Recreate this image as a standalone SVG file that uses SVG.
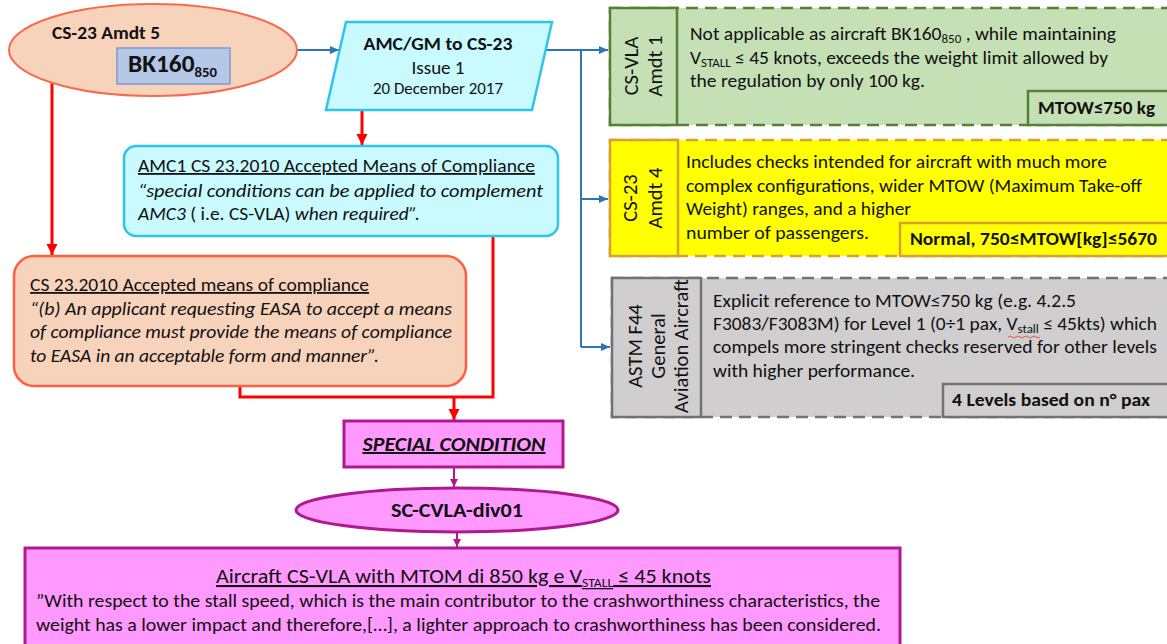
<svg xmlns="http://www.w3.org/2000/svg" width="1167" height="644" viewBox="0 0 1167 644">
<style>
text{font-family:Carlito,Lato,"Liberation Sans",sans-serif;fill:#111;}
.b{font-weight:bold;}
.i{font-style:italic;}
.u{text-decoration:underline;}
.blue{stroke:#2E75B6;stroke-width:2;fill:none;}
.red{stroke:#FF0000;stroke-width:3;fill:none;}
.pur{stroke:#B0188F;stroke-width:2;fill:none;}
.dash{stroke-dasharray:12 7;}
</style>
<defs>
<marker id="ab" markerUnits="userSpaceOnUse" markerWidth="10" markerHeight="10" refX="9" refY="5" orient="auto"><path d="M0,1 L9,5 L0,9 Z" fill="#2E75B6"/></marker>
<marker id="ar" markerUnits="userSpaceOnUse" markerWidth="12" markerHeight="12" refX="11" refY="6" orient="auto"><path d="M0,0.5 L11,6 L0,11.5 Z" fill="#FF0000"/></marker>
<marker id="ap" markerUnits="userSpaceOnUse" markerWidth="10" markerHeight="10" refX="8" refY="5" orient="auto"><path d="M0,1 L8,5 L0,9 Z" fill="#B0188F"/></marker>
</defs>

<g id="connectors">
<path class="blue" d="M297,50 H339" marker-end="url(#ab)"/>
<path class="blue" d="M545,50 H608" marker-end="url(#ab)"/>
<path class="blue" d="M581,50 V347"/>
<path class="blue" d="M581,199 H608" marker-end="url(#ab)"/>
<path class="blue" d="M581,347 H610" marker-end="url(#ab)"/>
<path class="red" d="M362,110 V145" marker-end="url(#ar)"/>
<path class="red" d="M52,83 V255" marker-end="url(#ar)"/>
<path class="red" d="M240,386 V397 H493 V236"/>
<path class="red" d="M454,397 V420" marker-end="url(#ar)"/>
<path class="pur" d="M454,467 V487" marker-end="url(#ap)"/>
<path class="pur" d="M457,532 V547" marker-end="url(#ap)"/>
</g>

<g id="cs23amdt5">
<ellipse cx="153" cy="50" rx="144" ry="46" fill="#F8D3BC" stroke="#F86A4C" stroke-width="2"/>
<text x="52" y="39" class="b" font-size="18" textLength="108" lengthAdjust="spacingAndGlyphs">CS-23 Amdt 5</text>
<rect x="117" y="48" width="113" height="36" fill="#B4C7E7" stroke="#7F9BC9" stroke-width="1.5"/>
<text x="128" y="72" class="b" font-size="24" textLength="89" lengthAdjust="spacingAndGlyphs">BK160<tspan font-size="14" dy="5">850</tspan></text>
</g>

<g id="amcgm">
<polygon points="346,22 552,22 532,110 326,110" fill="#C9FAFF" stroke="#2EC4F0" stroke-width="2.5"/>
<text x="438" y="50" text-anchor="middle" class="b" font-size="18" textLength="149" lengthAdjust="spacingAndGlyphs">AMC/GM to CS-23</text>
<text x="438" y="74" text-anchor="middle" font-size="18" textLength="53" lengthAdjust="spacingAndGlyphs">Issue 1</text>
<text x="438" y="94" text-anchor="middle" font-size="15.5" textLength="130" lengthAdjust="spacingAndGlyphs">20 December 2017</text>
</g>

<g id="csvla">
<rect x="610" y="8" width="570" height="117" fill="#C5E0B4" stroke="#548235" stroke-width="2.5" class="dash"/>
<rect x="610" y="8" width="67" height="117" fill="#C5E0B4" stroke="#548235" stroke-width="2.5"/>
<text transform="rotate(-90)" text-anchor="middle" font-size="20.5"><tspan x="-66" y="638">CS-VLA</tspan><tspan x="-66" y="662">Amdt 1</tspan></text>
<text x="690" y="40" font-size="18" textLength="426" lengthAdjust="spacingAndGlyphs">Not applicable as aircraft BK160<tspan font-size="12" dy="3">850</tspan><tspan dy="-3"> , while maintaining</tspan></text>
<text x="690" y="64" font-size="18" textLength="418" lengthAdjust="spacingAndGlyphs">V<tspan font-size="12" dy="3">STALL</tspan><tspan dy="-3"> ≤ 45 knots, exceeds the weight limit allowed by</tspan></text>
<text x="690" y="87" font-size="18" textLength="235" lengthAdjust="spacingAndGlyphs">the regulation by only 100 kg.</text>
<rect x="1028" y="91" width="150" height="34" fill="#C5E0B4" stroke="#548235" stroke-width="2.5"/>
<text x="1038" y="114" class="b" font-size="18" textLength="117" lengthAdjust="spacingAndGlyphs">MTOW≤750 kg</text>
</g>

<g id="cs23amdt4">
<rect x="610" y="140" width="570" height="116" fill="#FFFF00" stroke="#D6A12E" stroke-width="2.5" class="dash"/>
<rect x="610" y="140" width="68" height="116" fill="#FFFF00" stroke="#D6A12E" stroke-width="2.5"/>
<text transform="rotate(-90)" text-anchor="middle" font-size="20.5"><tspan x="-198" y="637">CS-23</tspan><tspan x="-198" y="662">Amdt 4</tspan></text>
<text x="686" y="168" font-size="18" textLength="421" lengthAdjust="spacingAndGlyphs">Includes checks intended for aircraft with much more</text>
<text x="686" y="192" font-size="18" textLength="456" lengthAdjust="spacingAndGlyphs">complex configurations, wider MTOW (Maximum Take-off</text>
<text x="686" y="215" font-size="18" textLength="225" lengthAdjust="spacingAndGlyphs">Weight) ranges, and a higher</text>
<text x="686" y="239" font-size="18" textLength="183" lengthAdjust="spacingAndGlyphs">number of passengers.</text>
<rect x="900" y="223" width="280" height="33" fill="#FFFF00" stroke="#D6A12E" stroke-width="2.5"/>
<text x="910" y="245" class="b" font-size="18" textLength="247" lengthAdjust="spacingAndGlyphs">Normal, 750≤MTOW[kg]≤5670</text>
</g>

<g id="astm">
<rect x="612" y="278" width="570" height="139" fill="#D0CECE" stroke="#767171" stroke-width="2.5" class="dash"/>
<rect x="612" y="278" width="89" height="139" fill="#D0CECE" stroke="#767171" stroke-width="2.5"/>
<text transform="rotate(-90)" text-anchor="middle" font-size="20.5"><tspan x="-346" y="642">ASTM F44</tspan><tspan x="-346" y="665">General</tspan><tspan x="-346" y="688">Aviation Aircraft</tspan></text>
<text x="713" y="307" font-size="18" textLength="363" lengthAdjust="spacingAndGlyphs">Explicit reference to MTOW≤750 kg (e.g. 4.2.5</text>
<text x="713" y="330" font-size="18" textLength="444" lengthAdjust="spacingAndGlyphs">F3083/F3083M) for Level 1 (0÷1 pax, V<tspan font-size="12" dy="3">stall</tspan><tspan dy="-3"> ≤ 45kts) which</tspan></text>
<path d="M1008,337 q2,-2 4,0 t4,0 t4,0 t4,0 t4,0 t4,0 t4,0 t4,0" stroke="#E03030" stroke-width="0.8" fill="none"/>
<text x="713" y="353" font-size="18" textLength="444" lengthAdjust="spacingAndGlyphs">compels more stringent checks reserved for other levels</text>
<text x="713" y="377" font-size="18" textLength="202" lengthAdjust="spacingAndGlyphs">with higher performance.</text>
<rect x="943" y="384" width="240" height="33" fill="#D0CECE" stroke="#767171" stroke-width="2.5"/>
<text x="952" y="406" class="b" font-size="18" textLength="198" lengthAdjust="spacingAndGlyphs">4 Levels based on n° pax</text>
</g>

<g id="amc1">
<rect x="124" y="146" width="434" height="90" rx="12" fill="#C9FAFF" stroke="#2EC4F0" stroke-width="2.5"/>
<text x="138" y="172" font-size="18" class="u" textLength="397" lengthAdjust="spacingAndGlyphs">AMC1 CS 23.2010 Accepted Means of Compliance</text>
<text x="138" y="197" font-size="18" class="i" textLength="405" lengthAdjust="spacingAndGlyphs">“special conditions can be applied to complement</text>
<text x="138" y="220" font-size="18" textLength="282" lengthAdjust="spacingAndGlyphs"><tspan class="i">AMC3</tspan> ( i.e. CS-VLA) <tspan class="i">when required”.</tspan></text>
</g>

<g id="cs232010">
<rect x="14" y="256" width="452" height="130" rx="20" fill="#F8D3BC" stroke="#FF5F42" stroke-width="2.5"/>
<text x="30" y="291" font-size="18" class="u" textLength="339" lengthAdjust="spacingAndGlyphs">CS 23.2010 Accepted means of compliance</text>
<text x="30" y="315" font-size="18" class="i" textLength="422" lengthAdjust="spacingAndGlyphs">“(b) An applicant requesting EASA to accept a means</text>
<text x="30" y="338" font-size="18" class="i" textLength="422" lengthAdjust="spacingAndGlyphs">of compliance must provide the means of compliance</text>
<text x="30" y="362" font-size="18" class="i" textLength="349" lengthAdjust="spacingAndGlyphs">to EASA in an acceptable form and manner”.</text>
</g>

<g id="special">
<rect x="344" y="421" width="219" height="46" fill="#FF99FF" stroke="#B0188F" stroke-width="3"/>
<text x="454" y="451" text-anchor="middle" class="b i u" font-size="20" textLength="183" lengthAdjust="spacingAndGlyphs">SPECIAL CONDITION</text>
</g>

<g id="sccvla">
<ellipse cx="457" cy="510" rx="161" ry="22" fill="#FF99FF" stroke="#B0188F" stroke-width="3"/>
<text x="457" y="517" text-anchor="middle" class="b" font-size="20" textLength="132" lengthAdjust="spacingAndGlyphs">SC-CVLA-div01</text>
</g>

<g id="aircraft">
<rect x="25" y="548" width="875" height="110" fill="#FF99FF" stroke="#B0188F" stroke-width="3"/>
<text x="216" y="583" font-size="21" class="u" textLength="495" lengthAdjust="spacingAndGlyphs">Aircraft CS-VLA with MTOM di 850 kg e V<tspan font-size="13" dy="4">STALL</tspan><tspan dy="-4"> ≤ 45 knots</tspan></text>
<text x="36" y="607" font-size="18" textLength="844" lengthAdjust="spacingAndGlyphs">”With respect to the stall speed, which is the main contributor to the crashworthiness characteristics, the</text>
<text x="36" y="631" font-size="18" textLength="845" lengthAdjust="spacingAndGlyphs">weight has a lower impact and therefore,[…], a lighter approach to crashworthiness has been considered.</text>
</g>
</svg>
